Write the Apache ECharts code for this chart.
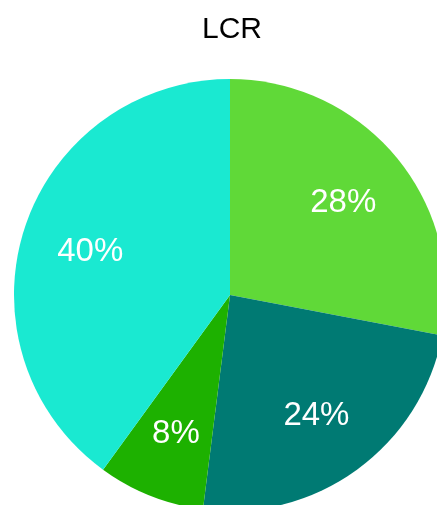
<!DOCTYPE html>
<html>
<head>
<meta charset="utf-8">
<script src="https://cdn.jsdelivr.net/npm/echarts@6/dist/echarts.min.js"></script>
<style>
  html, body { margin: 0; padding: 0; background: #fff; }
  #chart { width: 437px; height: 505px; }
</style>
</head>
<body>
<div id="chart"></div>
<script>
// LCR share by segment, clockwise from 12 o'clock
const categories = ['A', 'B', 'C', 'D'];
const values = [28, 24, 8, 40];
const colors = ['#60d938', '#007a73', '#1db100', '#1ae9d1'];

const font = '"Liberation Sans", Arial, Helvetica, sans-serif';
const data = categories.map((name, i) => ({ name, value: values[i] }));

const chart = echarts.init(document.getElementById('chart'), null, { renderer: 'canvas' });
chart.setOption({
  animation: false,
  title: {
    text: 'LCR',
    left: 197,
    top: 10,
    textStyle: { fontFamily: font, fontSize: 30, fontWeight: 'normal', color: '#000' }
  },
  series: [
    {
      // filled slices
      type: 'pie',
      center: [230, 295],
      radius: [0, 216],
      startAngle: 90,
      clockwise: true,
      color: colors,
      data: data,
      label: { show: false },
      labelLine: { show: false },
      emphasis: { disabled: true }
    },
    {
      // percentage labels, placed two thirds of the way out
      type: 'pie',
      center: [230, 297],
      radius: [72, 216],
      startAngle: 90,
      clockwise: true,
      data: data,
      silent: true,
      itemStyle: { color: 'rgba(0,0,0,0)' },
      label: {
        show: true,
        position: 'inside',
        formatter: p => p.value + '%',
        color: '#fff',
        fontFamily: font,
        fontSize: 33
      },
      labelLine: { show: false },
      emphasis: { disabled: true }
    }
  ]
});
</script>
</body>
</html>
